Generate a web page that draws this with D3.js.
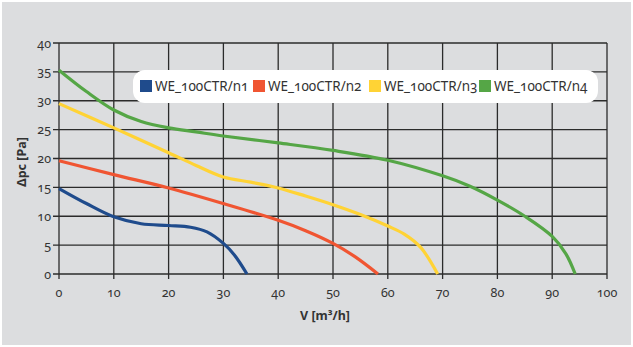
<!DOCTYPE html>
<html><head><meta charset="utf-8">
<script src="https://cdn.jsdelivr.net/npm/d3@7"></script>
<style>
html,body{margin:0;padding:0;background:#fff;}
text{font-family:"Noto Sans",sans-serif;fill:#333;font-variant-numeric:oldstyle-nums;}
</style></head>
<body><svg id="c" width="633" height="347"></svg>
<script>
const seriesNames = ["WE_100CTR/n1","WE_100CTR/n2","WE_100CTR/n3","WE_100CTR/n4"];
const seriesColors = ["#1f4b8c","#f05532","#ffd335","#55a646"];
const n1 = [[0,14.8],[5,12.2],[10,9.9],[15,8.7],[20,8.4],[24,8.1],[27,7.3],[30,5.3],[32,3.3],[34.3,0]];
const n2 = [[0,19.6],[10,17.2],[20,14.9],[30,12.2],[40,9.3],[45,7.5],[50,5.3],[54,3.0],[58.2,0]];
const n3 = [[0,29.5],[10,25.3],[20,21.0],[25,18.8],[30,16.8],[35,15.9],[40,14.9],[45,13.5],[50,12.0],[55,10.3],[60,8.3],[63,6.9],[66,4.6],[69.1,0]];
const n4 = [[0,35.3],[5,31.6],[10,28.4],[15,26.4],[20,25.3],[25,24.6],[30,23.9],[40,22.7],[50,21.4],[60,19.7],[70,17.0],[75,15.2],[80,12.8],[85,10.0],[90,6.5],[92.5,3.5],[94.2,0]];
const seriesData = [n1,n2,n3,n4];
const xTicks = [0,10,20,30,40,50,60,70,80,90,100];
const yTicks = [0,5,10,15,20,25,30,35,40];
const xTitle = "V [m³/h]";
const yTitle = "Δpc [Pa]";

const svg = d3.select("#c");
svg.append("rect").attr("x",2).attr("y",2).attr("width",629).attr("height",343).attr("fill","#dcdddf");

const x = d3.scaleLinear().domain([0,100]).range([59,607]);
const y = d3.scaleLinear().domain([0,40]).range([274,43]);

// grid
const grid = svg.append("g").attr("stroke","#2b2b2b").attr("stroke-width",1.3);
grid.selectAll(".v").data(xTicks).join("line")
  .attr("x1",d=>x(d)).attr("x2",d=>x(d)).attr("y1",y(40)).attr("y2",y(0)+5);
grid.selectAll(".h").data(yTicks).join("line")
  .attr("y1",d=>y(d)).attr("y2",d=>y(d)).attr("x1",x(0)-6).attr("x2",x(100));

// tick labels
svg.append("g").selectAll("text").data(yTicks).join("text")
  .attr("x",x(0)-8).attr("y",d=>y(d)+4.5).attr("text-anchor","end")
  .attr("font-size",12.5).text(d=>d);
svg.append("g").selectAll("text").data(xTicks).join("text")
  .attr("x",d=>x(d)).attr("y",297).attr("text-anchor","middle")
  .attr("font-size",12.5).text(d=>d);

// titles
svg.append("text").attr("x",325).attr("y",320).attr("text-anchor","middle")
  .attr("font-size",12.5).attr("font-weight","bold").text(xTitle);
svg.append("text").attr("transform","translate(26,162) rotate(-90)").attr("text-anchor","middle")
  .attr("font-size",12.5).attr("font-weight","bold").text(yTitle);

// lines
const line = d3.line().x(d=>x(d[0])).y(d=>y(d[1])).curve(d3.curveCatmullRom.alpha(0.5));
svg.append("g").selectAll("path").data(seriesData).join("path")
  .attr("d",line).attr("fill","none")
  .attr("stroke",(d,i)=>seriesColors[i]).attr("stroke-width",3.2);

// legend
svg.append("rect").attr("x",133).attr("y",70).attr("width",465).attr("height",33)
  .attr("rx",12).attr("fill","#fff");
const legX = [140,253,369,479];
const lg = svg.append("g").selectAll("g").data(seriesNames).join("g")
  .attr("transform",(d,i)=>`translate(${legX[i]},80)`);
lg.append("rect").attr("width",12).attr("height",12).attr("fill",(d,i)=>seriesColors[i]);
lg.append("text").attr("x",15).attr("y",11).attr("font-size",13.5).text(d=>d);
</script></body></html>
